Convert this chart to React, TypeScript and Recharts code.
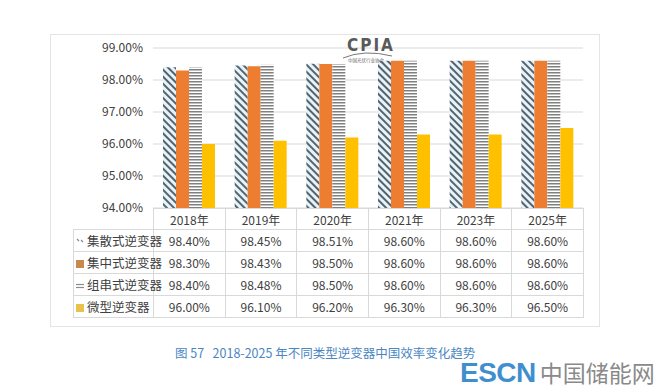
import React from "react";
import { BarChart, Bar, XAxis, YAxis, CartesianGrid } from "recharts";

const categories = ["2018年", "2019年", "2020年", "2021年", "2023年", "2025年"];
const seriesNames = ["集散式逆变器", "集中式逆变器", "组串式逆变器", "微型逆变器"];
const jisanshi = [98.4, 98.45, 98.51, 98.6, 98.6, 98.6];
const jizhongshi = [98.3, 98.43, 98.5, 98.6, 98.6, 98.6];
const zuchuanshi = [98.4, 98.48, 98.5, 98.6, 98.6, 98.6];
const weixing = [96.0, 96.1, 96.2, 96.3, 96.3, 96.5];
const yTicks = [94, 95, 96, 97, 98, 99];

const seriesValues = [jisanshi, jizhongshi, zuchuanshi, weixing];
const seriesKeys = ["jisan", "jizhong", "zuchuan", "weixing"];
const seriesFills = ["url(#hatchDiag)", "#ED7D31", "url(#hatchHoriz)", "#FFC000"];

const data = categories.map((year, i) => ({
  year,
  jisan: jisanshi[i],
  jizhong: jizhongshi[i],
  zuchuan: zuchuanshi[i],
  weixing: weixing[i],
}));

const FONT = '"Noto Sans CJK SC", "Noto Sans", sans-serif';
const fmt = (v: number) => v.toFixed(2) + "%";

const LegendIcon = ({ idx }: { idx: number }) => (
  <svg width={8} height={8} style={{ marginRight: 3 }}>
    {idx === 0 ? (
      <path d="M1 1 L3 3 M5 2 L7 4" stroke="#7a8a99" strokeWidth={1.2} fill="none" />
    ) : idx === 2 ? (
      <g stroke="#8c8c8c" strokeWidth={1.2}>
        <line x1={0} y1={2.5} x2={8} y2={2.5} />
        <line x1={0} y1={5.5} x2={8} y2={5.5} />
      </g>
    ) : (
      <rect width={8} height={8} fill={idx === 1 ? "#C98850" : "#E8C24A"} />
    )}
  </svg>
);

const cellBorder = "1px solid #d9d9d9";

export default function App() {
  const colW = 430 / 6;
  return (
    <div
      style={{
        position: "absolute",
        left: 0,
        top: 0,
        width: 667,
        height: 391,
        background: "#fff",
        fontFamily: FONT,
        overflow: "hidden",
      }}
    >
      {/* outer frame */}
      <div
        style={{
          position: "absolute",
          left: 50,
          top: 34,
          width: 548,
          height: 291,
          border: "1px solid #e4e4e4",
        }}
      />

      {/* data table */}
      <table
        style={{
          position: "absolute",
          left: 73,
          top: 208,
          width: 511,
          borderCollapse: "collapse",
          tableLayout: "fixed",
          fontSize: 12,
          color: "#404040",
          fontFamily: FONT,
        }}
      >
        <colgroup>
          <col style={{ width: 80 }} />
          {categories.map((c) => (
            <col key={c} style={{ width: colW }} />
          ))}
        </colgroup>
        <tbody>
          <tr style={{ height: 21 }}>
            <td style={{ borderRight: cellBorder, borderBottom: cellBorder, padding: 0 }} />
            {categories.map((c) => (
              <td
                key={c}
                style={{ border: cellBorder, textAlign: "center", padding: 0 }}
              >
                {c}
              </td>
            ))}
          </tr>
          {seriesNames.map((name, si) => (
            <tr key={name} style={{ height: 22 }}>
              <td
                style={{
                  border: cellBorder,
                  padding: "0 0 0 2px",
                  whiteSpace: "nowrap",
                  fontSize: 12.5,
                }}
              >
                <LegendIcon idx={si} />
                {name}
              </td>
              {seriesValues[si].map((v, i) => (
                <td
                  key={i}
                  style={{ border: cellBorder, textAlign: "center", padding: 0 }}
                >
                  {fmt(v)}
                </td>
              ))}
            </tr>
          ))}
        </tbody>
      </table>

      {/* chart */}
      <div style={{ position: "absolute", left: 0, top: 0 }}>
        <BarChart
          width={667}
          height={220}
          data={data}
          margin={{ top: 48, right: 84, bottom: 12, left: 73 }}
          barCategoryGap={10}
          barGap={0}
        >
          <defs>
            <pattern
              id="hatchDiag"
              patternUnits="userSpaceOnUse"
              width={5}
              height={5}
              patternTransform="rotate(-45)"
            >
              <rect width={5} height={5} fill="#e6f3f8" />
              <rect width={2} height={5} fill="#55636f" />
            </pattern>
            <pattern
              id="hatchHoriz"
              patternUnits="userSpaceOnUse"
              width={4}
              height={3}
            >
              <rect width={4} height={3} fill="#ffffff" />
              <rect width={4} height={1.5} fill="#808080" />
            </pattern>
          </defs>
          <CartesianGrid vertical={false} stroke="#d9d9d9" />
          <XAxis dataKey="year" hide />
          <YAxis
            width={80}
            domain={[94, 99]}
            ticks={yTicks}
            tickFormatter={fmt}
            axisLine={false}
            tickLine={false}
            tickSize={0}
            tickMargin={10}
            tick={{ fill: "#404040", fontSize: 12, fontFamily: FONT }}
          />
          {seriesKeys.map((k, i) => (
            <Bar
              key={k}
              dataKey={k}
              name={seriesNames[i]}
              fill={seriesFills[i]}
              isAnimationActive={false}
            />
          ))}
        </BarChart>
      </div>

      {/* CPIA logo */}
      <div style={{ position: "absolute", left: 344, top: 36, width: 50, height: 28 }}>
        <div
          style={{
            fontFamily: '"DejaVu Sans Condensed", "DejaVu Sans", sans-serif',
            fontWeight: 700,
            fontSize: 17,
            color: "#5a5a5a",
            letterSpacing: 2,
            lineHeight: "18px",
            paddingLeft: 3,
          }}
        >
          CPIA
        </div>
        <svg width={52} height={12} style={{ position: "absolute", left: -2, top: 15 }}>
          <path d="M1 7 Q 22 -2 50 5" stroke="#666" strokeWidth={0.9} fill="none" />
          <text x={6} y={11} fontSize={4.5} fill="#666" fontFamily={FONT}>
            中国光伏行业协会
          </text>
        </svg>
      </div>

      {/* caption */}
      <div
        style={{
          position: "absolute",
          left: 175,
          top: 343,
          fontSize: 12.5,
          color: "#4a86bf",
          whiteSpace: "pre",
          fontWeight: 400,
        }}
      >
        {"图 57   2018-2025 年不同类型逆变器中国效率变化趋势"}
      </div>

      {/* watermark */}
      <div
        style={{
          position: "absolute",
          left: 460,
          top: 357,
          whiteSpace: "nowrap",
          lineHeight: "30px",
        }}
      >
        <span
          style={{
            fontFamily: '"Liberation Sans", Arial, sans-serif',
            fontWeight: 700,
            fontSize: 28,
            color: "#3f8fcf",
            letterSpacing: -0.5,
          }}
        >
          ESCN
        </span>
        <span style={{ fontSize: 23, color: "#8a8a8a", marginLeft: 4, fontFamily: FONT }}>
          中国储能网
        </span>
      </div>
    </div>
  );
}
